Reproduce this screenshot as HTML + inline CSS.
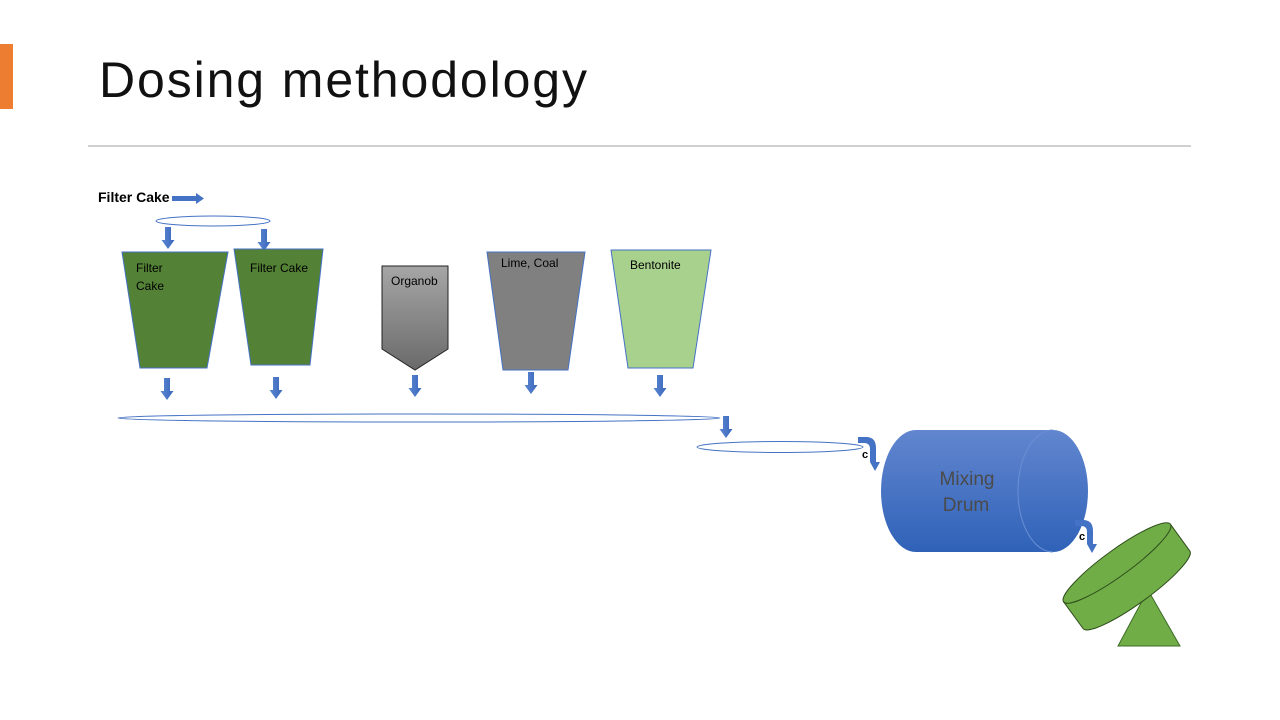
<!DOCTYPE html>
<html><head><style>
body{margin:0;background:#fff;}
svg{display:block;font-family:"Liberation Sans",sans-serif;}
</style></head><body>
<svg width="1280" height="720" viewBox="0 0 1280 720">
<defs>
<linearGradient id="gr" x1="0" y1="0" x2="0" y2="1"><stop offset="0" stop-color="#a6a6a6"/><stop offset="1" stop-color="#6a6a6a"/></linearGradient>
<linearGradient id="bl" x1="0" y1="0" x2="0" y2="1"><stop offset="0" stop-color="#6286cf"/><stop offset="1" stop-color="#2f62b8"/></linearGradient>
<linearGradient id="ar" x1="0" y1="0" x2="1" y2="0"><stop offset="0" stop-color="#5b86d0"/><stop offset="1" stop-color="#3a67bd"/></linearGradient>
<g id="da"><path d="M-3,0 H3 V13 H6.5 L0,22 L-6.5,13 H-3 Z" fill="url(#ar)"/></g>
</defs>
<rect x="0" y="44" width="13" height="65" fill="#ed7d31"/>
<text x="99" y="97" font-size="50" fill="#111" textLength="488" lengthAdjust="spacing">Dosing methodology</text>
<line x1="88" y1="146" x2="1191" y2="146" stroke="#d0d0d0" stroke-width="2"/>

<text x="98" y="202" font-size="14" font-weight="bold">Filter Cake</text>
<path d="M172,196 H196 V193 L204,198.5 L196,204 V201 H172 Z" fill="#4472c4"/>
<ellipse cx="213" cy="221" rx="57" ry="5" fill="#fff" stroke="#4472c4"/>

<use href="#da" x="168" y="227"/>
<use href="#da" x="264" y="229"/>
<use href="#da" x="167" y="378"/>
<use href="#da" x="276" y="377"/>
<use href="#da" x="415" y="375"/>
<use href="#da" x="531" y="372"/>
<use href="#da" x="660" y="375"/>
<use href="#da" x="726" y="416"/>

<polygon points="122,252 228,252 207,368 140,368" fill="#538135" stroke="#4472c4"/>
<text x="136" y="272" font-size="12">Filter</text>
<text x="136" y="290" font-size="12">Cake</text>
<polygon points="234,249 323,249 310,365 251,365" fill="#538135" stroke="#4472c4"/>
<text x="250" y="272" font-size="12">Filter  Cake</text>
<polygon points="382,266 448,266 448,349 415,370 382,349" fill="url(#gr)" stroke="#222"/>
<text x="391" y="285" font-size="12">Organob</text>
<polygon points="487,252 585,252 568,370 503,370" fill="#808080" stroke="#4472c4"/>
<text x="501" y="267" font-size="12">Lime,  Coal</text>
<polygon points="611,250 711,250 693,368 628,368" fill="#a9d18e" stroke="#4472c4"/>
<text x="630" y="269" font-size="12">Bentonite</text>

<ellipse cx="419" cy="418" rx="301" ry="4" fill="#fff" stroke="#4472c4"/>
<ellipse cx="780" cy="447" rx="83" ry="5.5" fill="#fff" stroke="#4472c4"/>

<!-- drum -->
<path d="M916,430 H1053 A35,61 0 0 1 1053,552 H916 A35,61 0 0 1 916,430 Z" fill="url(#bl)"/>
<path d="M1053,430 A35,61 0 0 0 1053,552" fill="none" stroke="#6a8fd4" stroke-width="1"/>
<text x="967" y="485" font-size="19" fill="#4a4a4a" text-anchor="middle">Mixing</text>
<text x="966" y="511" font-size="19" fill="#4a4a4a" text-anchor="middle">Drum</text>

<!-- curved arrows -->
<path d="M858,437 H866 Q876,437 876,448 V462 H880 L875,471 L870,462 V449 Q870,443 864,443 H858 Z" fill="#4472c4"/>
<text x="862" y="458" font-size="11" font-weight="bold">c</text>
<path d="M1075,520 H1083 Q1093,520 1093,531 V544 H1097 L1092,553 L1087,544 V532 Q1087,526 1081,526 H1075 Z" fill="#4472c4"/>
<text x="1079" y="540" font-size="11" font-weight="bold">c</text>

<!-- pan -->
<polygon points="1148,590 1118,646 1180,646" fill="#70ad47" stroke="#3d6b27"/>
<g transform="translate(1117,563) rotate(-36)">
<path d="M-66,0 V33 A66,13 0 0 0 66,33 V0 Z" fill="#70ad47" stroke="#2e4d1c"/>
<ellipse cx="0" cy="0" rx="66" ry="13" fill="#70ad47" stroke="#2e4d1c"/>
</g>
</svg>
</body></html>
